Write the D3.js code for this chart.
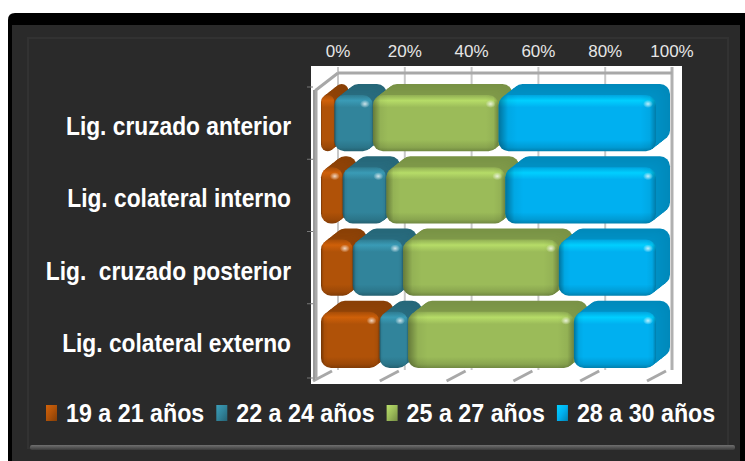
<!DOCTYPE html>
<html>
<head>
<meta charset="utf-8">
<script src="https://cdn.jsdelivr.net/npm/d3@7.9.0/dist/d3.min.js"></script>
<style>
  html, body { margin: 0; padding: 0; background: #fff; }
  svg { display: block; }
  text { white-space: pre; }
</style>
</head>
<body>
<svg id="chart" width="745" height="461"></svg>
<script>
const categories = ['Lig. cruzado anterior', 'Lig. colateral interno', 'Lig.  cruzado posterior', 'Lig. colateral externo'];
const seriesNames = ['19 a 21 años', '22 a 24 años', '25 a 27 años', '28 a 30 años'];
const s19 = [4, 6.5, 9.5, 17.5];
const s22 = [11.5, 13, 15, 8.5];
const s25 = [37.5, 35.5, 46.5, 49.5];
const s28 = [47, 45, 29, 24.5];
const tickValues = [0, 20, 40, 60, 80, 100];
const colors = ['#b05208', '#31849b', '#9bbb59', '#00b0f0'];

const series = [s19, s22, s25, s28];
const svg = d3.select('#chart');
const defs = svg.append('defs');

// squeeze bold text a bit so it looks condensed like the original
function squeeze(sel, k) {
  sel.each(function () {
    const len = this.getComputedTextLength();
    d3.select(this).attr('textLength', len * k).attr('lengthAdjust', 'spacingAndGlyphs');
  });
}

// frame
svg.append('path')
  .attr('d', 'M8,20 Q8,13 15,13 L745,13 L745,461 L8,461 Z')
  .attr('fill', '#000');
svg.append('rect').attr('x', 12).attr('y', 25).attr('width', 728).attr('height', 436).attr('fill', '#2a2a2a');
svg.append('rect').attr('x', 28).attr('y', 38).attr('width', 700).attr('height', 410)
  .attr('fill', 'none').attr('stroke', '#323232').attr('stroke-width', 2);
const bev = defs.append('linearGradient').attr('id', 'bev').attr('x1', 0).attr('y1', 0).attr('x2', 0).attr('y2', 1);
bev.append('stop').attr('offset', '0%').attr('stop-color', '#707070');
bev.append('stop').attr('offset', '100%').attr('stop-color', '#3a3a3a');
svg.append('rect').attr('x', 30).attr('y', 445).attr('width', 705).attr('height', 5).attr('rx', 2).attr('fill', 'url(#bev)');

// plot area
svg.append('rect').attr('x', 311).attr('y', 66).attr('width', 371).attr('height', 318).attr('fill', '#fff');

const dx = 14, dy = -11;
const x = d3.scaleLinear().domain([0, 100]).range([321, 656]);
const xb = d3.scaleLinear().domain([0, 100]).range([338, 672]);
const y = d3.scaleBand().domain(categories).range([87, 376]).paddingInner(0.22).paddingOuter(0.11);

const grid = svg.append('g').attr('stroke', '#a8a8a8').attr('fill', 'none');
tickValues.forEach(t => {
  grid.append('line').attr('x1', xb(t)).attr('x2', xb(t)).attr('y1', 67).attr('y2', 370)
    .attr('stroke-width', t === 100 ? 3 : 2).attr('stroke', t === 100 ? '#b0b0b0' : '#c8c8c8');
  grid.append('line').attr('x1', xb(t) - 25).attr('y1', 381).attr('x2', xb(t) - 6).attr('y2', 371)
    .attr('stroke-width', 3);
});
grid.append('line').attr('x1', xb(0)).attr('x2', xb(100)).attr('y1', 73).attr('y2', 73).attr('stroke-width', 3);
grid.append('path').attr('d', `M${xb(0)},73 L316,90 L316,378`).attr('stroke-width', 3);
grid.append('line').attr('x1', 314).attr('x2', 314).attr('y1', 90).attr('y2', 380).attr('stroke-width', 2).attr('stroke', '#999');
categories.forEach((c) => {
  const yy = y(c) - y.step() * y.paddingInner() / 2;
  svg.append('line').attr('x1', 307).attr('x2', 313).attr('y1', yy).attr('y2', yy).attr('stroke', '#777');
});
svg.append('line').attr('x1', 307).attr('x2', 313).attr('y1', 378).attr('y2', 378).attr('stroke', '#777');

// gradients for bars
colors.forEach((c, i) => {
  const base = d3.color(c);
  const g = defs.append('linearGradient').attr('id', 'fv' + i).attr('x1', 0).attr('y1', 0).attr('x2', 0).attr('y2', 1);
  [[0, base.darker(0.2)], [0.1, base.brighter(0.45)], [0.22, base], [0.8, base], [0.93, base.darker(0.35)], [1, base.darker(0.9)]]
    .forEach(([o, col]) => g.append('stop').attr('offset', o).attr('stop-color', col));
  const h = defs.append('linearGradient').attr('id', 'fh' + i).attr('x1', 0).attr('y1', 0).attr('x2', 1).attr('y2', 0);
  [[0, 0.35], [0.06, 0.05], [0.12, 0], [0.9, 0], [0.96, 0.05], [1, 0.3]]
    .forEach(([o, a]) => h.append('stop').attr('offset', o).attr('stop-color', '#000').attr('stop-opacity', a));
  const l = defs.append('linearGradient').attr('id', 'lg' + i).attr('x1', 0).attr('y1', 0).attr('x2', 1).attr('y2', 1);
  l.append('stop').attr('offset', 0).attr('stop-color', base.brighter(0.5));
  l.append('stop').attr('offset', 0.5).attr('stop-color', base);
  l.append('stop').attr('offset', 1).attr('stop-color', base.darker(0.8));
});
const spot = defs.append('radialGradient').attr('id', 'spot');
spot.append('stop').attr('offset', 0).attr('stop-color', '#fff').attr('stop-opacity', 0.75);
spot.append('stop').attr('offset', 1).attr('stop-color', '#fff').attr('stop-opacity', 0);

// bars
const bars = svg.append('g');
categories.forEach((cat, r) => {
  let cum = 0;
  series.forEach((s, i) => {
    const v = s[r];
    const x0 = x(cum), x1 = x(cum + v);
    cum += v;
    const y0 = y(cat), h = y.bandwidth();
    const w = Math.max(x1 - x0, 2);
    const rx = Math.min(10, w / 2);
    const base = d3.color(colors[i]);
    const g = bars.append('g');
    const steps = 8;
    for (let k = steps; k >= 1; k--) {
      const t = k / steps;
      g.append('rect')
        .attr('x', x0 + dx * t).attr('y', y0 + dy * t)
        .attr('width', w).attr('height', h).attr('rx', rx)
        .attr('fill', base.darker(0.55 + 0.15 * t));
    }
    g.append('rect').attr('x', x0).attr('y', y0).attr('width', w).attr('height', h).attr('rx', rx)
      .attr('fill', `url(#fv${i})`);
    g.append('rect').attr('x', x0).attr('y', y0).attr('width', w).attr('height', h).attr('rx', rx)
      .attr('fill', `url(#fh${i})`);
    if (w > 14) {
      g.append('ellipse').attr('cx', x1 - 8).attr('cy', y0 + 9).attr('rx', 5).attr('ry', 4)
        .attr('fill', 'url(#spot)');
    }
  });
});

// axis labels
svg.append('g').selectAll('text').data(tickValues).join('text')
  .attr('x', d => xb(d)).attr('y', 57)
  .attr('text-anchor', 'middle')
  .attr('font-family', 'Liberation Sans Narrow, Arial Narrow, sans-serif')
  .attr('font-size', 17).attr('fill', '#e6e6e6')
  .text(d => d + '%');

svg.append('g').selectAll('text').data(categories).join('text')
  .attr('x', 291).attr('y', d => y(d) + y.bandwidth() / 2 + 12)
  .attr('text-anchor', 'end')
  .attr('font-family', 'Liberation Sans, Arial, sans-serif')
  .attr('font-weight', 'bold').attr('font-size', 25).attr('fill', '#fff')
  .text(d => d)
  .call(squeeze, 0.91);

// legend
const legend = svg.append('g');
let lx = 46;
seriesNames.forEach((name, i) => {
  legend.append('rect').attr('x', lx).attr('y', 405).attr('width', 11).attr('height', 16)
    .attr('fill', `url(#lg${i})`);
  const t = legend.append('text').attr('x', lx + 20).attr('y', 422)
    .attr('font-family', 'Liberation Sans, Arial, sans-serif')
    .attr('font-weight', 'bold').attr('font-size', 25).attr('fill', '#fff')
    .text(name);
  const natural = t.node().getComputedTextLength();
  t.attr('textLength', natural * 0.93).attr('lengthAdjust', 'spacingAndGlyphs');
  lx += 20 + natural * 0.93 + 12;
});
</script>
</body>
</html>
